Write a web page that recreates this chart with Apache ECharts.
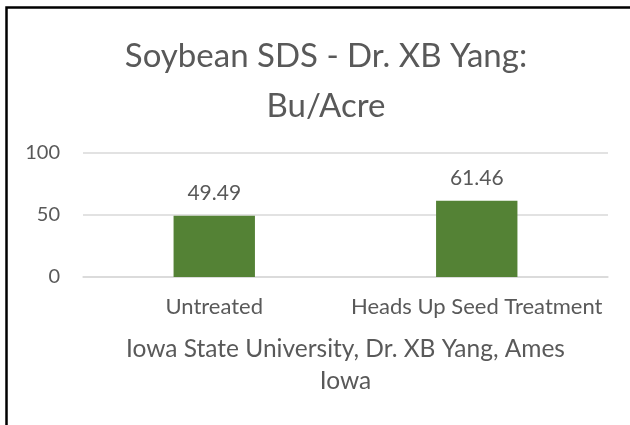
<!DOCTYPE html>
<html>
<head>
<meta charset="utf-8">
<script src="https://cdn.jsdelivr.net/npm/echarts@6/dist/echarts.min.js"></script>
<style>
html,body{margin:0;padding:0;background:#fff;}
#c{width:630px;height:425px;}
</style>
</head>
<body>
<div id="c"></div>
<script>
const categories = ["Untreated", "Heads Up Seed Treatment"];
const values = [49.49, 61.46];
const valueLabels = ["49.49", "61.46"];
const titleText = "Soybean SDS - Dr. XB Yang:\nBu/Acre";
const xAxisTitle = "Iowa State University, Dr. XB Yang, Ames\nIowa";
const yTicks = [0, 50, 100];

const FONT = "Lato";
const TXT = "#595959";
const chart = echarts.init(document.getElementById('c'), null, {renderer: 'canvas'});
chart.setOption({
  animation: false,
  backgroundColor: '#fff',
  title: {
    text: titleText,
    left: 326,
    top: 31,
    padding: 0,
    textAlign: 'center',
    textStyle: {fontFamily: FONT, fontSize: 33, fontWeight: 'normal', color: TXT, lineHeight: 50}
  },
  grid: {left: 83, right: 22, top: 153, bottom: 148},
  xAxis: {
    type: 'category',
    data: categories,
    axisLine: {show: true, lineStyle: {color: '#d9d9d9', width: 1.5}},
    axisTick: {show: false},
    axisLabel: {fontFamily: FONT, fontSize: 22, color: TXT, margin: 19, interval: 0, hideOverlap: false},
    name: xAxisTitle,
    nameLocation: 'middle',
    nameGap: 56,
    nameTextStyle: {fontFamily: FONT, fontSize: 24.5, color: TXT, lineHeight: 32}
  },
  yAxis: {
    type: 'value',
    min: yTicks[0],
    max: yTicks[yTicks.length - 1],
    interval: 50,
    axisLine: {show: false},
    axisTick: {show: false},
    splitLine: {lineStyle: {color: '#d9d9d9', width: 1.5}},
    axisLabel: {fontFamily: FONT, fontSize: 20, color: TXT, margin: 23}
  },
  series: [{
    type: 'bar',
    data: values,
    barWidth: '31%',
    itemStyle: {color: '#548235'},
    label: {
      show: true,
      position: 'top',
      distance: 12,
      fontFamily: FONT,
      fontSize: 21,
      color: TXT,
      formatter: p => valueLabels[p.dataIndex]
    }
  }],
  graphic: [{
    type: 'rect',
    shape: {x: 6.5, y: 7.5, width: 640, height: 440},
    style: {fill: 'none', stroke: '#000', lineWidth: 2.5},
    silent: true
  }]
});
</script>
</body>
</html>
